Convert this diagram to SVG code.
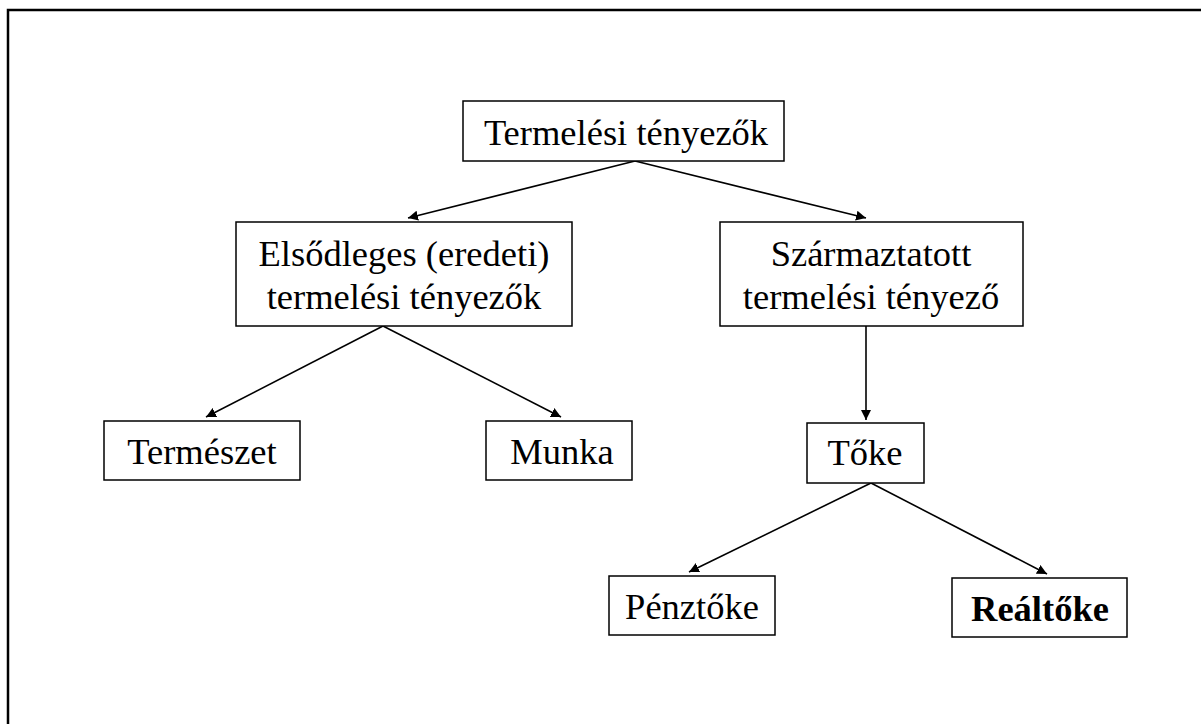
<svg xmlns="http://www.w3.org/2000/svg" width="1201" height="724" viewBox="0 0 1201 724">
<defs>
<marker id="ah" viewBox="0 0 10 10" refX="10" refY="5" markerWidth="10" markerHeight="10" markerUnits="userSpaceOnUse" orient="auto">
<path d="M0,0 L10,5 L0,10 z" fill="#000"/>
</marker>
<style>
.box{fill:#fff;stroke:#000;stroke-width:1.5}
.t{font-family:"Liberation Serif","Times New Roman",serif;font-size:36.5px;fill:#000;text-anchor:middle}
.b{font-weight:bold}
.c{stroke:#000;stroke-width:1.6;fill:none;marker-end:url(#ah)}
</style>
</defs>
<rect width="1201" height="724" fill="#fff"/>
<path d="M8,724 V10 H1201" fill="none" stroke="#000" stroke-width="2.5"/>
<g id="connectors">
<line class="c" x1="635" y1="161" x2="408" y2="218"/>
<line class="c" x1="635" y1="161" x2="866" y2="218"/>
<line class="c" x1="383" y1="326" x2="206" y2="417"/>
<line class="c" x1="383" y1="326" x2="561" y2="417"/>
<line class="c" x1="866" y1="326" x2="866" y2="420"/>
<line class="c" x1="871" y1="483" x2="689" y2="572"/>
<line class="c" x1="871" y1="483" x2="1047" y2="574"/>
</g>
<g id="n-termelesi">
<rect class="box" x="463" y="101" width="321" height="60"/>
<text class="t" x="626" y="145">Termelési tényezők</text>
</g>
<g id="n-elsodleges">
<rect class="box" x="236" y="222" width="336" height="104"/>
<text class="t" x="404" y="266">Elsődleges (eredeti)</text>
<text class="t" x="404" y="309">termelési tényezők</text>
</g>
<g id="n-szarmaztatott">
<rect class="box" x="720" y="222" width="303" height="104"/>
<text class="t" x="871" y="266">Származtatott</text>
<text class="t" x="871" y="309">termelési tényező</text>
</g>
<g id="n-termeszet">
<rect class="box" x="104" y="421" width="196" height="59"/>
<text class="t" x="202" y="464">Természet</text>
</g>
<g id="n-munka">
<rect class="box" x="486" y="421" width="146" height="59"/>
<text class="t" x="562" y="464">Munka</text>
</g>
<g id="n-toke">
<rect class="box" x="807" y="423" width="117" height="60"/>
<text class="t" x="865" y="465">Tőke</text>
</g>
<g id="n-penztoke">
<rect class="box" x="609" y="576" width="166" height="59"/>
<text class="t" x="692" y="619">Pénztőke</text>
</g>
<g id="n-realtoke">
<rect class="box" x="952" y="578" width="175" height="59"/>
<text class="t b" x="1040" y="621">Reáltőke</text>
</g>
</svg>
